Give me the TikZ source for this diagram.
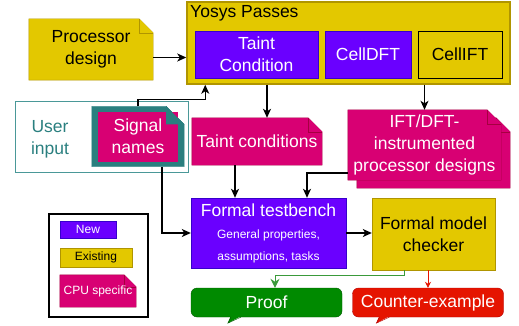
\documentclass[tikz,border=0pt]{standalone}
\usepackage{fontspec}
\setmainfont{Liberation Sans}
\usepackage{xcolor}
\usetikzlibrary{arrows.meta,positioning,backgrounds}

\definecolor{newfill}{HTML}{6A00FF}
\definecolor{newline}{HTML}{3700CC}
\definecolor{oldfill}{HTML}{E3C800}
\definecolor{oldline}{HTML}{B09500}
\definecolor{cpufill}{HTML}{D80073}
\definecolor{cpuline}{HTML}{A50040}
\definecolor{tealfill}{HTML}{2A7F7F}
\definecolor{tealline}{HTML}{4A9898}
\definecolor{okfill}{HTML}{008A00}
\definecolor{okline}{HTML}{005700}
\definecolor{okarrow}{HTML}{3A9A3A}
\definecolor{badfill}{HTML}{E51400}
\definecolor{badline}{HTML}{B20000}

% folded document behind a named node
\newcommand\docshape[5][]{%
  \begin{pgfonlayer}{background}
    \draw[fill=#3, draw=#4] ([#1]#2.south west) -- ([#1]#2.north west) -- ([#1,xshift=-#5]#2.north east)
      -- ([#1,yshift=-#5]#2.north east) -- ([#1]#2.south east) -- cycle;
    \draw[fill=#3, draw=#4] ([#1,xshift=-#5]#2.north east) -- ([#1,xshift=-#5,yshift=-#5]#2.north east)
      -- ([#1,yshift=-#5]#2.north east);
  \end{pgfonlayer}}

% speech tail under a result node
\newcommand\calltail[4]{%
  \fill[#3] ([xshift=#2,yshift=1]#1.south west) -- ([xshift=#2-3,yshift=-6]#1.south west)
    -- ([xshift=#2+10,yshift=1]#1.south west) -- cycle;
  \draw[#4] ([xshift=#2]#1.south west) -- ([xshift=#2-3,yshift=-6]#1.south west)
    -- ([xshift=#2+10]#1.south west);}

\begin{document}
\begin{tikzpicture}[
    x=1pt, y=-1pt,
    font=\fontsize{17.5}{22}\selectfont,
    newbox/.style={rectangle, draw=newline, fill=newfill, text=white, align=center, inner sep=0pt},
    oldbox/.style={rectangle, draw=oldline, fill=oldfill, align=center, inner sep=0pt},
    cpudoc/.style={rectangle, text=white, align=center, inner sep=0pt},
    result/.style={rectangle, rounded corners=6pt, text=white, inner sep=0pt, minimum width=151, minimum height=29},
    small/.style={font=\fontsize{12}{22}\selectfont},
    arrow/.style={-{Stealth[length=9pt,width=8pt,inset=2.5pt]}, line width=1.2pt}
]
\useasboundingbox (0,0) rectangle (519,326);

% Yosys passes
\node[oldbox, line width=1.5pt, minimum width=323, minimum height=82] (yosys) at (348.5,43) {};
\node[anchor=west, inner sep=0pt] (ytitle) at (190,13) {Yosys Passes};
\node[newbox, minimum width=123, minimum height=47] (tcpass) at (256.5,54.5) {Taint\\Condition};
\node[newbox, minimum width=86, minimum height=47] (celldft) at (368,54.5) {CellDFT};
\node[oldbox, draw=black, minimum width=84, minimum height=47] (cellift) at (460,54.5) {CellIFT};

% inputs
\node[cpudoc, text=black, minimum width=124, minimum height=61] (procd) at (91,49.5) {Processor\\design};
\docshape{procd}{oldfill}{oldline}{14}

\node[draw=tealline, line width=1pt, minimum width=173, minimum height=70] (user) at (101.5,137) {};
\node[text=tealfill, align=center] (usertext) at (50,139) {User\\input};
\node[cpudoc, minimum width=92, minimum height=60] (sig) at (138,136.5) {Signal\\names};
\docshape{sig}{tealfill}{tealfill}{18}
\begin{pgfonlayer}{background}
  \fill[cpufill] ([xshift=6,yshift=-6]sig.north west) rectangle ([xshift=-6,yshift=5]sig.south east);
  \fill[tealfill] ([xshift=-18]sig.north east) -- ([xshift=-18,yshift=-18]sig.north east)
    -- ([yshift=-18]sig.north east) -- cycle;
\end{pgfonlayer}

% outputs of the passes
\node[cpudoc, minimum width=130, minimum height=47] (taintc) at (257,141.5) {Taint conditions};
\docshape{taintc}{cpufill}{cpuline}{14}
\node[cpudoc, minimum width=153, minimum height=70] (ift) at (424.5,145) {IFT/DFT-\\instrumented\\processor designs};
\docshape[xshift=9,yshift=-8]{ift}{cpufill}{cpuline}{14}
\docshape{ift}{cpufill}{cpuline}{14}

% checking
\node[newbox, small, minimum width=155, minimum height=70] (tb) at (268.5,233)
  {{\fontsize{17.5}{17.5}\selectfont Formal testbench}\\General properties,\\assumptions, tasks};
\node[oldbox, minimum width=123, minimum height=72] (chk) at (433.5,234) {Formal model\\checker};
\node[result, fill=okfill, draw=okline] (proof) at (266.5,302.5) {Proof};
\calltail{proof}{40}{okfill}{okline}
\node[result, fill=badfill, draw=badline] (counter) at (428,302.5) {Counter-example};
\calltail{counter}{27}{badfill}{badline}

% legend
\node[draw=black, line width=1.5pt, minimum width=99, minimum height=103] (legend) at (98.5,265.5) {};
\node[newbox, small, minimum width=56, minimum height=17] (lnew) at (88,229.5) {New};
\node[oldbox, small, minimum width=72, minimum height=19] (lold) at (96,257.5) {Existing};
\node[cpudoc, small, minimum width=76, minimum height=32] (lcpu) at (98,291) {CPU specific};
\docshape{lcpu}{cpufill}{cpuline}{12}

% connectors
\draw[arrow] ([yshift=-8]procd.east) -- ([yshift=-8]procd.east -| yosys.west);
\draw[arrow] (sig.north) -- ++(0,-7) -| ([xshift=19]yosys.south west);
\draw[arrow] ([xshift=10]taintc.north |- yosys.south) -- ([xshift=10]taintc.north);
\draw[arrow] (ift.north |- yosys.south) -- (ift.north);
\draw[arrow] ([xshift=-22]taintc.south) -- ([xshift=-22]taintc.south |- tb.north);
\draw[arrow] ([yshift=-28]ift.west) -| ([xshift=38.5]tb.north);
\draw[arrow] ([xshift=24]sig.south) |- (tb.west);
\draw[arrow] (tb.east) -- (tb.east -| chk.west);
\draw[-{Stealth[length=9pt,width=9pt,inset=3pt]}, okarrow, line width=1pt] ([xshift=-29.5]chk.south) -- ++(0,5) -| ([xshift=8.5]proof.north);
\draw[-{Stealth[length=6pt,width=6pt,inset=2pt]}, badfill, line width=0.8pt] (counter.north |- chk.south) -- (counter.north);

\end{tikzpicture}
\end{document}
